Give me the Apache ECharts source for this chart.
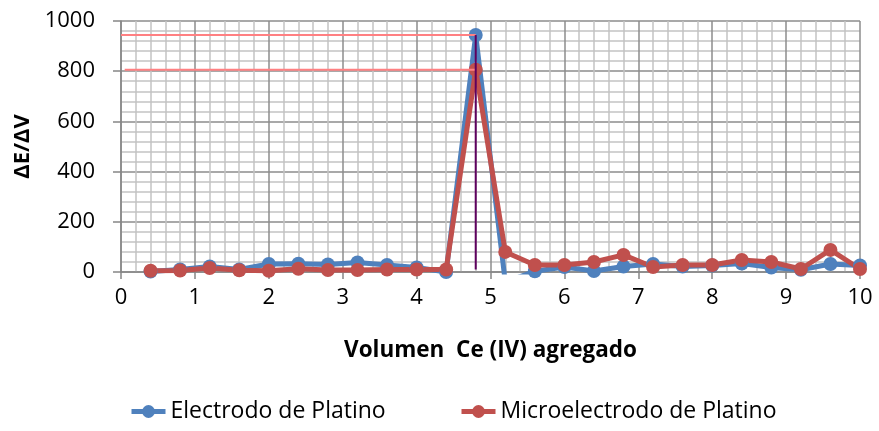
<!DOCTYPE html>
<html>
<head>
<meta charset="utf-8">
<script src="https://cdn.jsdelivr.net/npm/echarts@6/dist/echarts.min.js"></script>
<style>
  html, body { margin: 0; padding: 0; background: #fff; }
  #chart { width: 879px; height: 431px; }
</style>
</head>
<body>
<div id="chart"></div>
<script>
// Volume of Ce(IV) added (mL)
const volumen = [0.4, 0.8, 1.2, 1.6, 2.0, 2.4, 2.8, 3.2, 3.6, 4.0, 4.4, 4.8, 5.2,
                 5.6, 6.0, 6.4, 6.8, 7.2, 7.6, 8.0, 8.4, 8.8, 9.2, 9.6, 10.0];
// First derivative ΔE/ΔV for each electrode
const electrodo = [2, 10, 22, 10, 32, 33, 30, 38, 28, 18, 0, 944, -40,
                   3, 20, 4, 22, 32, 22, 26, 34, 18, 9, 32, 26];
const microelectrodo = [5, 6, 16, 7, 5, 13, 8, 8, 10, 10, 10, 806, 80,
                        28, 28, 40, 68, 20, 28, 28, 48, 40, 12, 88, 12];

const serieNames = ['Electrodo de Platino', 'Microelectrodo de Platino'];
const serieColors = ['#4F81BD', '#C0504D'];

// Equivalence point read-off
const puntoEquivalencia = 4.8;
const picoElectrodo = 944;
const picoMicro = 806;

const yTicks = [0, 200, 400, 600, 800, 1000];
const xTicks = [0, 1, 2, 3, 4, 5, 6, 7, 8, 9, 10];

const FONT = 'Open Sans';

const pairs = (xs, ys) => xs.map((x, i) => [x, ys[i]]);

const chart = echarts.init(document.getElementById('chart'));

const lineSeries = (name, values, color) => ({
  name: name,
  type: 'line',
  data: pairs(volumen, values),
  symbol: 'circle',
  symbolSize: 14,
  lineStyle: { width: 5, color: color },
  itemStyle: { color: color },
  clip: true,
  z: 3
});

const guide = (points, color, width) => ({
  type: 'line',
  data: points,
  symbol: 'none',
  silent: true,
  lineStyle: { width: width, color: color },
  z: 5
});

const legendItem = (name, left) => ({
  data: [name],
  left: left, top: 400, padding: 0,
  itemWidth: 34, itemHeight: 16, itemGap: 4,
  lineStyle: { width: 5 },
  textStyle: { fontFamily: FONT, fontSize: 23, color: '#000' }
});

chart.setOption({
  animation: false,
  textStyle: { fontFamily: FONT },
  grid: { left: 121, right: 19, top: 21, bottom: 159 },
  legend: [
    legendItem(serieNames[0], 129),
    legendItem(serieNames[1], 459)
  ],
  xAxis: {
    type: 'value',
    min: xTicks[0], max: xTicks[xTicks.length - 1], interval: 1,
    name: 'Volumen  Ce (IV) agregado',
    nameLocation: 'middle', nameGap: 67,
    nameTextStyle: { fontFamily: FONT, fontSize: 22.5, fontWeight: 'bold', color: '#000' },
    axisLine: { show: true, onZero: false, lineStyle: { color: '#878787', width: 1.5 } },
    axisTick: { show: true, length: 7, lineStyle: { color: '#878787', width: 1.5 } },
    axisLabel: { fontSize: 22, color: '#000', margin: 15, formatter: v => String(v) },
    splitLine: { show: true, lineStyle: { color: '#8C8C8C', width: 1.5 } },
    minorTick: { show: false, splitNumber: 5 },
    minorSplitLine: { show: true, lineStyle: { color: '#C4C4C4', width: 1.5 } }
  },
  yAxis: {
    type: 'value',
    min: yTicks[0], max: yTicks[yTicks.length - 1], interval: 200,
    name: 'ΔE/ΔV',
    nameLocation: 'middle', nameGap: 80,
    nameTextStyle: { fontFamily: FONT, fontSize: 22, fontWeight: 'bold', color: '#000' },
    axisLine: { show: true, lineStyle: { color: '#878787', width: 1.5 } },
    axisTick: { show: true, length: 8, lineStyle: { color: '#878787', width: 1.5 } },
    axisLabel: { fontSize: 22, color: '#000', margin: 26, formatter: v => String(v) },
    splitLine: { show: true, lineStyle: { color: '#8C8C8C', width: 1.5 } },
    minorTick: { show: false, splitNumber: 5 },
    minorSplitLine: { show: true, lineStyle: { color: '#C4C4C4', width: 1.5 } }
  },
  series: [
    lineSeries(serieNames[0], electrodo, serieColors[0]),
    lineSeries(serieNames[1], microelectrodo, serieColors[1]),
    guide([[0, picoElectrodo], [puntoEquivalencia, picoElectrodo]], '#FF8082', 2),
    guide([[0.05, picoMicro], [puntoEquivalencia, picoMicro]], '#FF8082', 2),
    guide([[puntoEquivalencia, picoElectrodo], [puntoEquivalencia, 10]], '#5E005E', 2)
  ]
});
</script>
</body>
</html>
